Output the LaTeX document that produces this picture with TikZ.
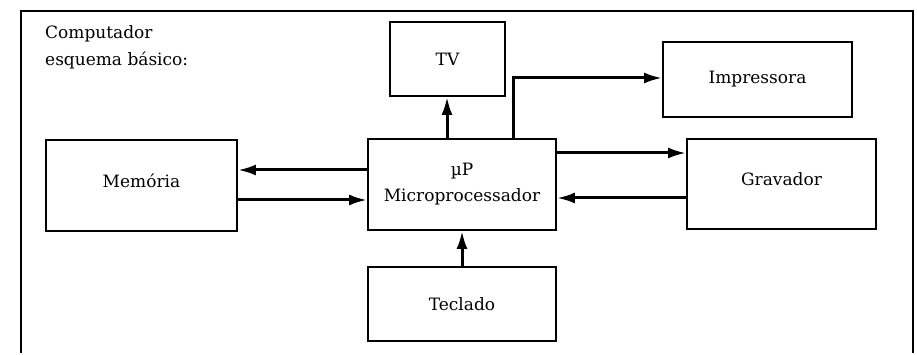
\documentclass[tikz,border=0pt]{standalone}
\usepackage{fontspec}
\setmainfont{DejaVu Serif}
\usetikzlibrary{arrows.meta}
\begin{document}
\begin{tikzpicture}[x=1pt,y=-1pt,
  box/.style={draw, line width=1.8pt, inner sep=0pt, font=\fontsize{17}{20}\selectfont, align=center},
  arr/.style={line width=3pt, -{Latex[length=18pt,width=11pt]}},
  frame/.style={line width=1.3pt},
  lbl/.style={anchor=base west, inner sep=0pt, font=\fontsize{17}{20}\selectfont}]
\useasboundingbox (0,0) rectangle (917,355);
\draw[frame] (21,353) -- (21,11) -- (913,11) -- (913,353);
\node[lbl] (t1) at (45,39) {Computador};
\node[lbl] (t2) at (45,66) {esquema básico:};
\node[box, minimum width=115pt, minimum height=74pt] (tv) at (447.5,59) {TV};
\node[box, minimum width=189pt, minimum height=75pt] (imp) at (757.5,79.5) {Impressora};
\node[box, minimum width=191pt, minimum height=91pt] (mem) at (141.5,185.5) {\raisebox{9pt}{Memória}};
\node[box, minimum width=188pt, minimum height=91pt] (micro) at (462,184.5) {µP\\[6pt]Microprocessador};
\node[box, minimum width=189pt, minimum height=90pt] (grav) at (781.5,184) {\raisebox{9pt}{Gravador}};
\node[box, minimum width=188pt, minimum height=74pt] (tec) at (462,304) {Teclado};
\draw[arr] ([yshift=14.5pt]micro.west) -- ([yshift=15.5pt]mem.east);
\draw[arr] ([yshift=-14.5pt]mem.east) -- ([yshift=-15.5pt]micro.west);
\draw[arr] ([xshift=-15pt]micro.north) -- ([xshift=-0.5pt]tv.south);
\draw[arr] ([xshift=51pt]micro.north) |- ([yshift=1.5pt]imp.west);
\draw[arr] ([yshift=31.5pt]micro.east) -- ([yshift=31pt]grav.west);
\draw[arr] ([yshift=-14pt]grav.west) -- ([yshift=-13.5pt]micro.east);
\draw[arr] (tec.north) -- (micro.south);
\end{tikzpicture}
\end{document}
